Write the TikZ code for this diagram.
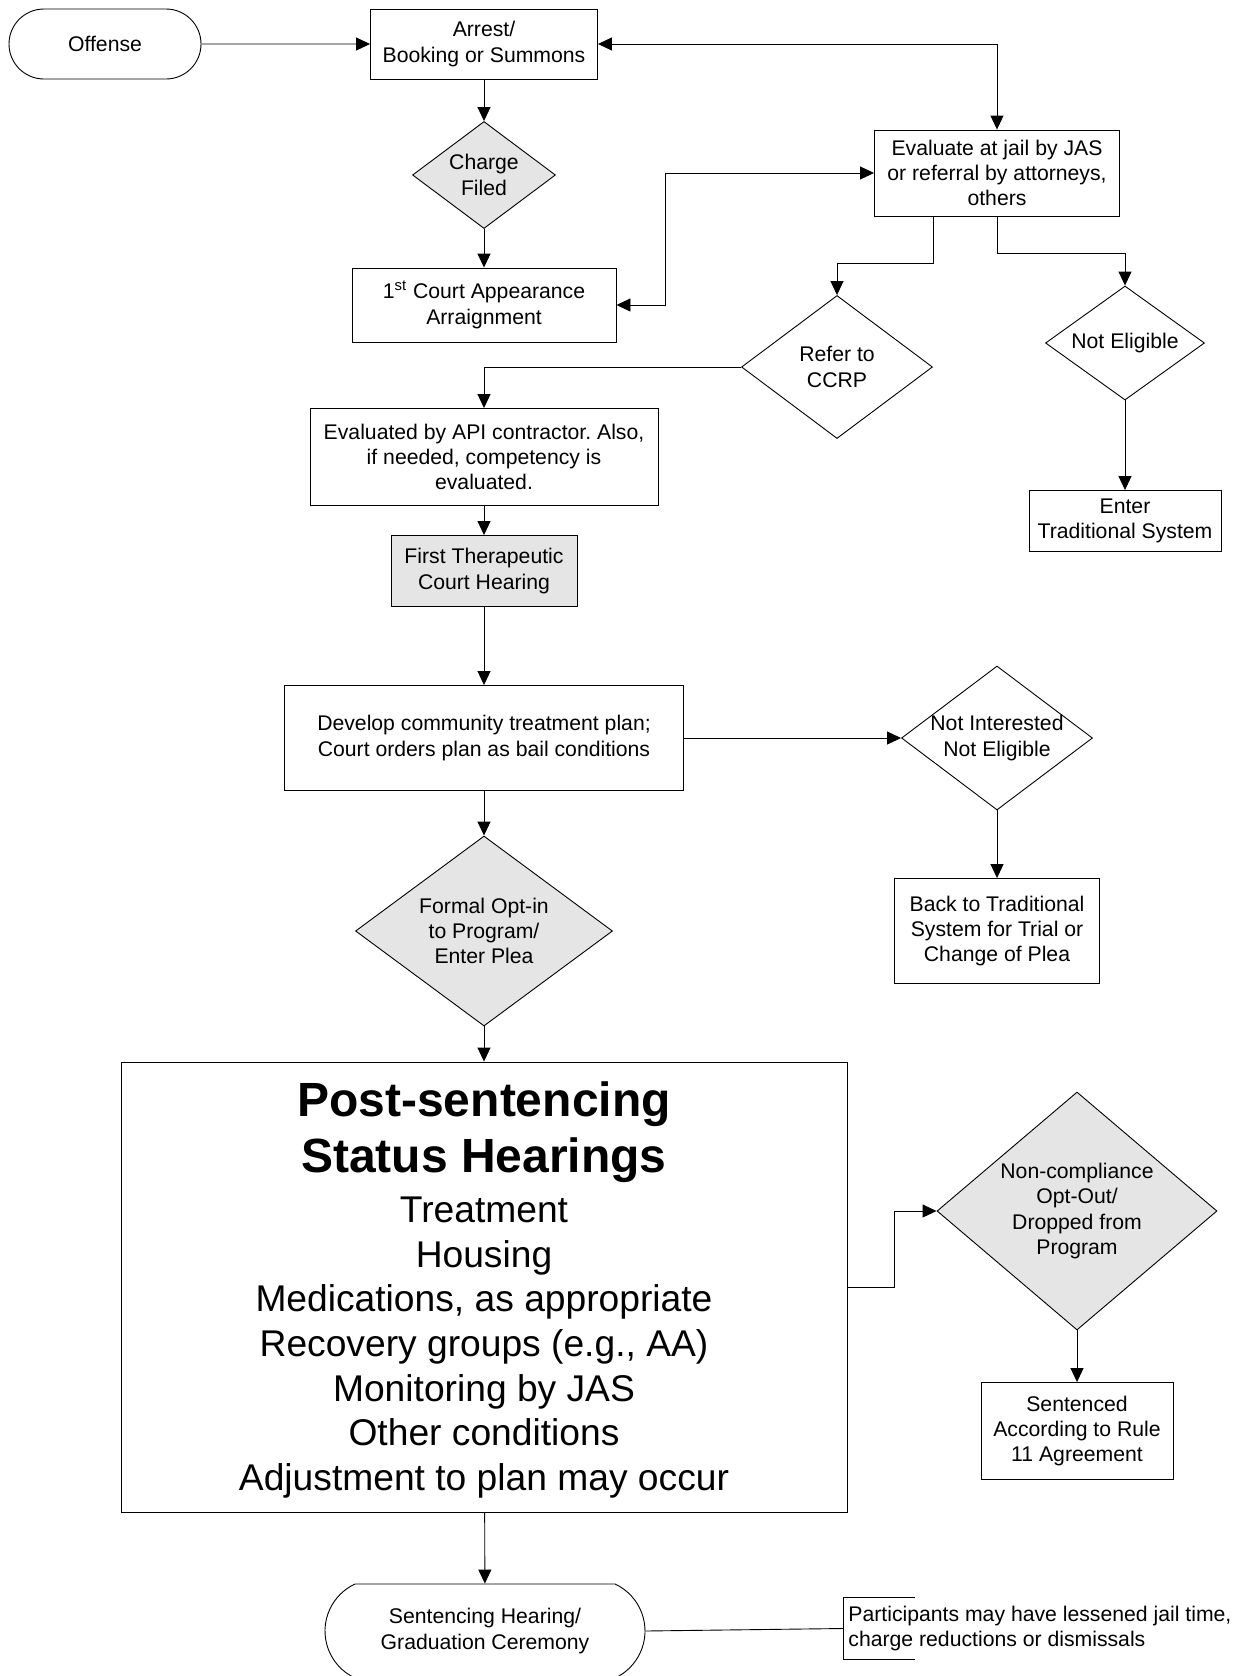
\documentclass[tikz,border=0pt]{standalone}
\usepackage{fontspec}
\setmainfont{Liberation Sans}
\usetikzlibrary{shapes.geometric,shapes.misc,arrows.meta}
\frenchspacing

\tikzset{
	box/.style={draw, rectangle, align=center, inner sep=2pt,
		font=\fontsize{10.6}{12.7}\selectfont},
	greybox/.style={box, fill=gray!20},
	decision/.style={draw, diamond, aspect=1.3, align=center, inner sep=-3pt,
		font=\fontsize{10.6}{12.7}\selectfont},
	greydecision/.style={decision, fill=gray!20},
	pill/.style={draw, rounded rectangle, align=center, inner sep=2pt,
		font=\fontsize{10.6}{12.7}\selectfont},
}

\begin{document}
\begin{tikzpicture}[>={Triangle[length=7pt,width=6.5pt]}, x=0.5pt, y=-0.5pt, line width=0.45pt]
	\useasboundingbox (0,0) rectangle (1240,1676);
	% left column
	\node[pill, minimum width=100pt, minimum height=35pt] (offense) at (105,44) {Offense};
	\node[box, minimum width=113.5pt, minimum height=35pt] (arrest) at (484,44) {Arrest/\\Booking or Summons};
	\node[greydecision, minimum width=71.5pt, minimum height=53.5pt] (charge) at (484,175) {Charge\\Filed};
	\node[box, minimum width=132pt, minimum height=37pt] (court) at (484,305) {1\textsuperscript{st} Court Appearance\\Arraignment};
	\node[box, minimum width=174pt, minimum height=48.5pt] (api) at (484,457) {Evaluated by API contractor. Also,\\if needed, competency is\\evaluated.};
	\node[greybox, minimum width=93pt, minimum height=35.5pt] (first) at (484,571) {First Therapeutic\\Court Hearing};
	\node[box, minimum width=199.5pt, minimum height=52.5pt] (develop) at (484,738) {Develop community treatment plan;\\Court orders plan as bail conditions};
	\node[greydecision, minimum width=128.5pt, minimum height=95pt] (optin) at (484,931) {Formal Opt-in\\to Program/\\Enter Plea};
	\node[box, minimum width=363pt, minimum height=225pt, text width=355pt, text height=20.4pt] (post) at (484,1287)
		{{\fontsize{24}{27.8}\selectfont\bfseries\spaceskip=.278em Post-sentencing\\Status Hearings\par}\vspace{2.8pt}%
		\fontsize{18.6}{22.3}\selectfont\spaceskip=.278em Treatment\\Housing\\Medications, as appropriate\\Recovery groups (e.g., AA)\\Monitoring by JAS\\Other conditions\\Adjustment to plan may occur\par};
	\node[pill, rounded rectangle arc length=130, minimum width=164pt, minimum height=47pt] (sentencing) at (485,1631) {Sentencing Hearing/\\Graduation Ceremony};
	% right side
	\node[box, minimum width=122.5pt, minimum height=43pt] (eval) at (997,173) {Evaluate at jail by JAS\\or referral by attorneys,\\others};
	\node[decision, minimum width=95.5pt, minimum height=71.5pt] (refer) at (837,367) {Refer to\\CCRP};
	\node[decision, minimum width=79.5pt, minimum height=57pt] (notelig) at (1125,343) {Not Eligible};
	\node[box, minimum width=96pt, minimum height=30.5pt] (enter) at (1125,521) {Enter\\Traditional System};
	\node[decision, minimum width=95.5pt, minimum height=72pt] (notint) at (997,738) {Not Interested\\Not Eligible};
	\node[box, minimum width=102.5pt, minimum height=52.5pt] (back) at (997,931) {Back to Traditional\\System for Trial or\\Change of Plea};
	\node[greydecision, minimum width=140pt, minimum height=119pt] (noncomp) at (1077,1211) {Non-compliance\\Opt-Out/\\Dropped from\\Program};
	\node[box, minimum width=96pt, minimum height=48.5pt] (sentenced) at (1077,1431) {Sentenced\\According to Rule\\11 Agreement};
	\node[align=left, anchor=west, inner xsep=2.5pt, minimum height=30.5pt,
		font=\fontsize{10.6}{12.7}\selectfont] (note) at (843,1628.5)
		{Participants may have lessened jail time,\\charge reductions or dismissals};
	% connectors
	\draw[->] (offense) -- (arrest);
	\draw[->] (arrest) -- (charge);
	\draw[->] (charge) -- (court);
	\draw[<->] (arrest.east) -| (eval.north);
	\draw[<->] (court.east) -- ++(49,0) |- (eval.west);
	\draw[->] (eval.south) ++(-64,0) -- ++(0,47) -| (refer.north);
	\draw[->] (eval.south) -- ++(0,37) -| (notelig.north);
	\draw[->] (refer.west) -| (api.north);
	\draw[->] (notelig) -- (enter);
	\draw[->] (api) -- (first);
	\draw[->] (first) -- (develop);
	\draw[->] (develop) -- (notint);
	\draw[->] (notint) -- (back);
	\draw[->] (develop) -- (optin);
	\draw[->] (optin) -- (post);
	\draw[->] (post.east) -- ++(47,0) |- (noncomp.west);
	\draw[->] (noncomp) -- (sentenced);
	\draw[->] (post) -- (sentencing);
	\draw (sentencing.east) -- (note.west);
	\draw (note.north west) ++(72,0) -| (note.south west) -- ++(72,0);
\end{tikzpicture}
\end{document}
